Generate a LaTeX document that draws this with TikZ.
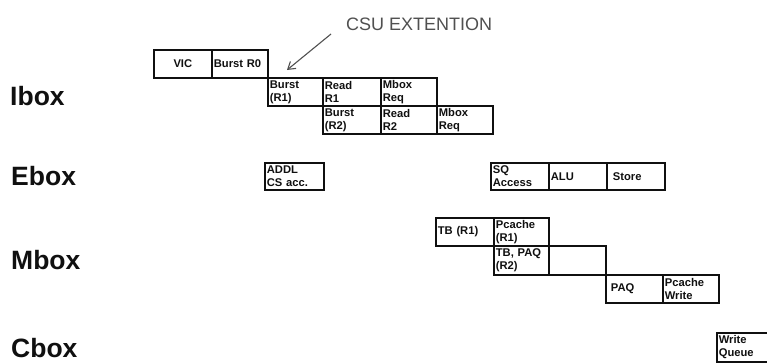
\documentclass[tikz,border=0pt]{standalone}
\usepackage{fontspec}
\setmainfont{Liberation Sans}
\usetikzlibrary{arrows.meta}
\definecolor{ink}{HTML}{101010}
\definecolor{pencil}{HTML}{505050}
\tikzset{
  cell/.style={draw=ink, line width=1.7pt, anchor=north west, rectangle,
    inner xsep=2pt, inner ysep=1pt, minimum height=28pt, align=left,
    font=\bfseries\fontsize{11.2}{13}\selectfont, text=ink},
  unitlabel/.style={anchor=base west, inner sep=0pt,
    font=\bfseries\fontsize{26.5}{28}\selectfont, text=ink},
  handnote/.style={anchor=south west, inner sep=0pt,
    font=\fontsize{18}{20}\selectfont, text=pencil},
  notearrow/.style={draw=pencil, line width=1.1pt, -{Straight Barb[length=7pt,width=9pt]}}
}
\begin{document}
\begin{tikzpicture}[x=1pt,y=-1pt]
\useasboundingbox[fill=white] (0,0) rectangle (767,362);

% unit labels
\node[unitlabel] (ibox) at (10,105) {Ibox};
\node[unitlabel] (ebox) at (11,185) {Ebox};
\node[unitlabel] (mbox) at (11,269) {Mbox};
\node[unitlabel] (cbox) at (11,357) {Cbox};

% Ibox
\node[cell, text width=54pt, align=center] (vic) at (153,49) {VIC};
\node[cell, text width=52pt] (br0) at (211,49) {Burst R0};
\node[cell, text width=51pt] (br1) at (267,77) {Burst\\(R1)};
\node[cell, text width=54pt] (rr1) at (322,77) {Read\\R1};
\node[cell, text width=52pt] (mr1) at (380,77) {Mbox\\Req};
\node[cell, text width=54pt] (br2) at (322,105) {Burst\\(R2)};
\node[cell, text width=52pt] (rr2) at (380,105) {Read\\R2};
\node[cell, text width=52pt] (mr2) at (436,105) {Mbox\\Req};

% Ebox
\node[cell, text width=55pt, minimum height=27pt] (addl) at (264,162) {ADDL\\CS acc.};
\node[cell, text width=54pt, minimum height=27pt] (sq) at (490,162) {SQ\\Access};
\node[cell, text width=54pt, minimum height=27pt] (alu) at (548,162) {ALU};
\node[cell, text width=54pt, minimum height=27pt] (store) at (606,162) {\hspace*{4pt}Store};

% Mbox
\node[cell, text width=54pt] (tb1) at (435,217) {TB (R1)};
\node[cell, text width=51pt] (pc1) at (493,217) {Pcache\\(R1)};
\node[cell, text width=51pt, minimum height=29pt] (tbpaq) at (493,245) {TB, PAQ\\(R2)};
\node[cell, text width=53pt, minimum height=29pt] (blank) at (548,245) {};
\node[cell, text width=53pt] (paq) at (605,274) {\hspace*{3pt}PAQ};
\node[cell, text width=52pt] (pcw) at (662,274) {Pcache\\Write};

% Cbox
\begin{scope}
\clip (0,0) rectangle (767,362);
\node[cell, text width=52pt, minimum height=29pt] (wq) at (716,332) {Write\\Queue};
\end{scope}

% handwritten note
\node[handnote] (note) at (346,31) {CSU EXTENTION};
\coordinate (notefrom) at (331,34);
\coordinate (noteto) at (287,70);
\draw[notearrow] (notefrom) -- (noteto);
\end{tikzpicture}
\end{document}
